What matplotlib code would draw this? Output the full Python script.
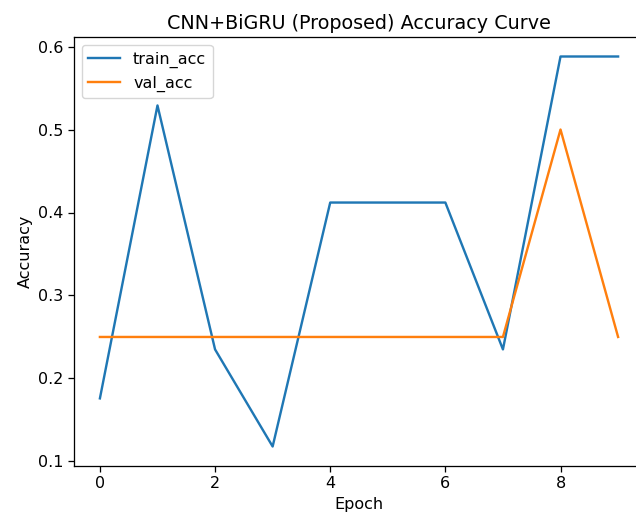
import matplotlib
matplotlib.use("Agg")
import matplotlib.pyplot as plt

epochs = list(range(10))
train_acc = [0.176, 0.529, 0.235, 0.118, 0.412, 0.412, 0.412, 0.235, 0.588, 0.588]
val_acc = [0.25, 0.25, 0.25, 0.25, 0.25, 0.25, 0.25, 0.25, 0.5, 0.25]

s = 1.15
plt.rcParams['font.size'] = 10 * s

fig = plt.figure(figsize=(6.36, 5.14), dpi=100)
# the reference is a cropped screenshot: right edge of the axes falls outside it
ax = fig.add_axes([74 / 636, 48 / 514, 570 / 636, 429 / 514])
ax.plot(epochs, train_acc, label='train_acc', lw=1.5 * s)
ax.plot(epochs, val_acc, label='val_acc', lw=1.5 * s)
ax.set_title('CNN+BiGRU (Proposed) Accuracy Curve', fontsize=12 * s)
ax.set_xlabel('Epoch')
ax.set_ylabel('Accuracy')
ax.legend(loc='upper left')
for sp in ax.spines.values():
    sp.set_linewidth(0.8 * s)
ax.spines['right'].set_visible(False)
ax.tick_params(width=0.8 * s, length=3.5 * s)

fig.savefig('out.png', dpi=100)
